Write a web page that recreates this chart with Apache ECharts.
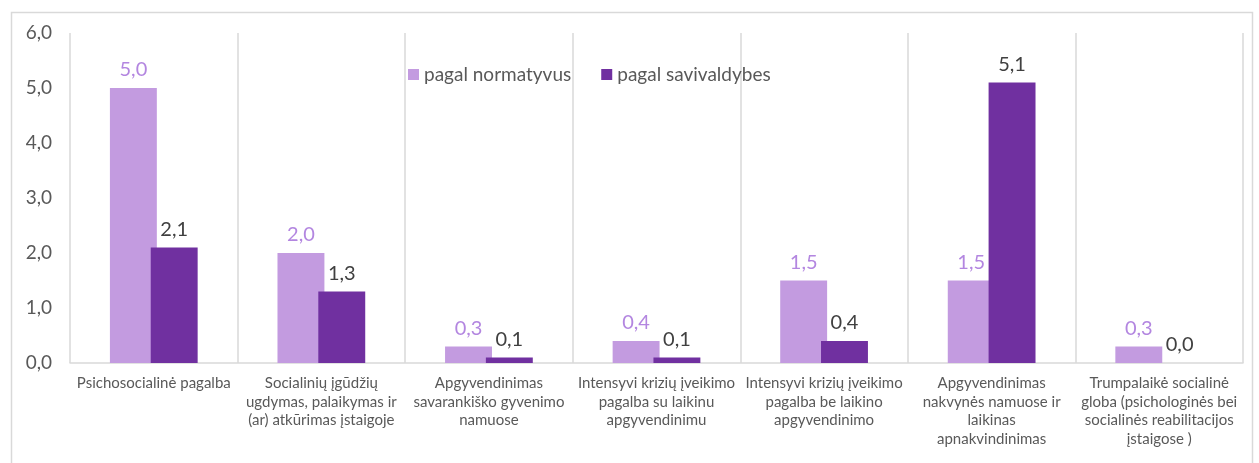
<!DOCTYPE html>
<html>
<head>
<meta charset="utf-8">
<style>
  html, body { margin: 0; padding: 0; background: #fff; }
  #chart { width: 1259px; height: 463px; }
</style>
<script src="https://cdn.jsdelivr.net/npm/echarts@6/dist/echarts.min.js"></script>
</head>
<body>
<div id="chart"></div>
<script>
const categories = [
  'Psichosocialinė pagalba',
  'Socialinių įgūdžių\nugdymas, palaikymas ir\n(ar) atkūrimas įstaigoje',
  'Apgyvendinimas\nsavarankiško gyvenimo\nnamuose',
  'Intensyvi krizių įveikimo\npagalba su laikinu\napgyvendinimu',
  'Intensyvi krizių įveikimo\npagalba be laikino\napgyvendinimo',
  'Apgyvendinimas\nnakvynės namuose ir\nlaikinas\napnakvindinimas',
  'Trumpalaikė socialinė\ngloba (psichologinės bei\nsocialinės reabilitacijos\nįstaigose )'
];
const normatyvus = [5.0, 2.0, 0.3, 0.4, 1.5, 1.5, 0.3];
const savivaldybes = [2.1, 1.3, 0.1, 0.1, 0.4, 5.1, 0.0];

const fmt = v => v.toFixed(1).replace('.', ',');

const chart = echarts.init(document.getElementById('chart'));

chart.setOption({
  animation: false,
  textStyle: { fontFamily: 'Lato' },
  graphic: [{
    type: 'rect',
    left: 9, top: 10,
    shape: { width: 1241, height: 470 },
    style: { fill: 'none', stroke: '#d9d9d9', lineWidth: 1.5 },
    silent: true
  }],
  legend: {
    left: 403, top: 60,
    itemWidth: 11, itemHeight: 11, itemGap: 30,
    icon: 'rect',
    textStyle: { fontSize: 19, color: '#595959', fontFamily: 'Lato' },
    data: ['pagal normatyvus', 'pagal savivaldybes']
  },
  grid: { left: 70, right: 16, top: 33, bottom: 100 },
  xAxis: {
    type: 'category',
    data: categories,
    axisLine: { lineStyle: { color: '#d9d9d9', width: 1.5 } },
    axisTick: { show: false },
    splitLine: { show: true, lineStyle: { color: '#d9d9d9', width: 1.5 } },
    axisLabel: {
      interval: 0,
      fontSize: 15,
      lineHeight: 18.5,
      color: '#595959',
      margin: 11,
      align: 'center'
    }
  },
  yAxis: {
    type: 'value',
    min: 0, max: 6, interval: 1,
    axisLine: { show: false },
    axisTick: { show: false },
    splitLine: { show: false },
    axisLabel: {
      fontSize: 19,
      color: '#595959',
      margin: 18,
      formatter: v => fmt(v)
    }
  },
  series: [
    {
      name: 'pagal normatyvus',
      type: 'bar',
      data: normatyvus,
      barWidth: '28%',
      barGap: '-13%',
      itemStyle: { color: '#C39BE0' },
      label: {
        show: true, position: 'top', distance: 8,
        fontSize: 20, color: '#B386E0',
        formatter: p => fmt(p.value)
      }
    },
    {
      name: 'pagal savivaldybes',
      type: 'bar',
      data: savivaldybes,
      barWidth: '28%',
      itemStyle: { color: '#7030A0' },
      label: {
        show: true, position: 'top', distance: 8,
        fontSize: 20, color: '#404040',
        formatter: p => fmt(p.value)
      }
    }
  ]
});
</script>
</body>
</html>
